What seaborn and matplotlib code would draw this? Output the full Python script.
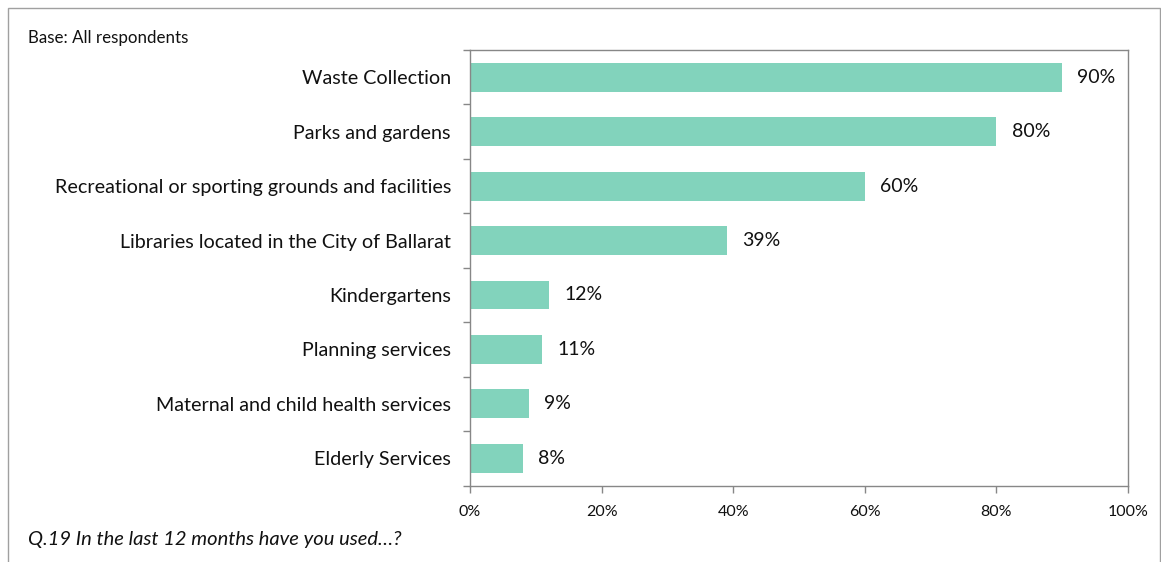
import numpy as np
import pandas as pd
import matplotlib
matplotlib.use("Agg")
import matplotlib.pyplot as plt
from matplotlib.patches import Rectangle
from matplotlib.ticker import FuncFormatter
import seaborn as sns

services = [
    "Waste Collection",
    "Parks and gardens",
    "Recreational or sporting grounds and facilities",
    "Libraries located in the City of Ballarat",
    "Kindergartens",
    "Planning services",
    "Maternal and child health services",
    "Elderly Services",
]
used_pct = [90, 80, 60, 39, 12, 11, 9, 8]
x_ticks = [0, 20, 40, 60, 80, 100]

sns.set_theme(style="white")
plt.rcParams["font.family"] = ["Lato", "DejaVu Sans"]

df = pd.DataFrame({"service": services, "pct": used_pct})

W, H = 1161, 562
fig = plt.figure(figsize=(W / 100, H / 100), dpi=100)
ax = fig.add_axes([470 / W, 1 - 485.5 / H, (1128 - 470) / W, (485.5 - 50) / H])

sns.barplot(data=df, x="pct", y="service", orient="h", color="#82D3BC",
            saturation=1, width=0.53, ax=ax, edgecolor="none")

ax.set_xlim(0, 100)
ax.set_ylim(len(services) - 0.5, -0.5)
ax.set_xticks(x_ticks)
ax.xaxis.set_major_formatter(FuncFormatter(lambda v, _: f"{v:.0f}%"))
ax.set_xlabel("")
ax.set_ylabel("")

spine_col = "#878787"
for s in ax.spines.values():
    s.set_visible(True)
    s.set_color(spine_col)
    s.set_linewidth(1.0)

ax.tick_params(axis="x", which="major", direction="out", length=5, width=1,
               color=spine_col, pad=9, labelsize=11.5, labelcolor="#111111",
               bottom=True)
ax.tick_params(axis="y", which="major", length=0, pad=13.7, labelsize=14.2,
               labelcolor="#111111")
ax.set_yticks(np.arange(-0.5, len(services)), minor=True)
ax.tick_params(axis="y", which="minor", direction="out", length=5, width=1,
               color=spine_col, left=True)

for cont in ax.containers:
    ax.bar_label(cont, labels=[f"{v}%" for v in used_pct], padding=11,
                 fontsize=14, color="#111111")

fig.text(28 / W, 1 - 38 / H, "Base: All respondents", fontsize=12.2,
         ha="left", va="center", color="#111111")
fig.text(28 / W, 1 - 540 / H, "Q.19 In the last 12 months have you used\u2026?",
         fontsize=14.5, style="italic", ha="left", va="center", color="#111111")

fig.add_artist(Rectangle((7.5 / W, -0.05), (1160 - 7.5) / W, 1.05 - 7.5 / H,
                         transform=fig.transFigure, fill=False,
                         edgecolor="#A0A0A0", linewidth=1.0, clip_on=False))

fig.savefig("out.png", dpi=100)
